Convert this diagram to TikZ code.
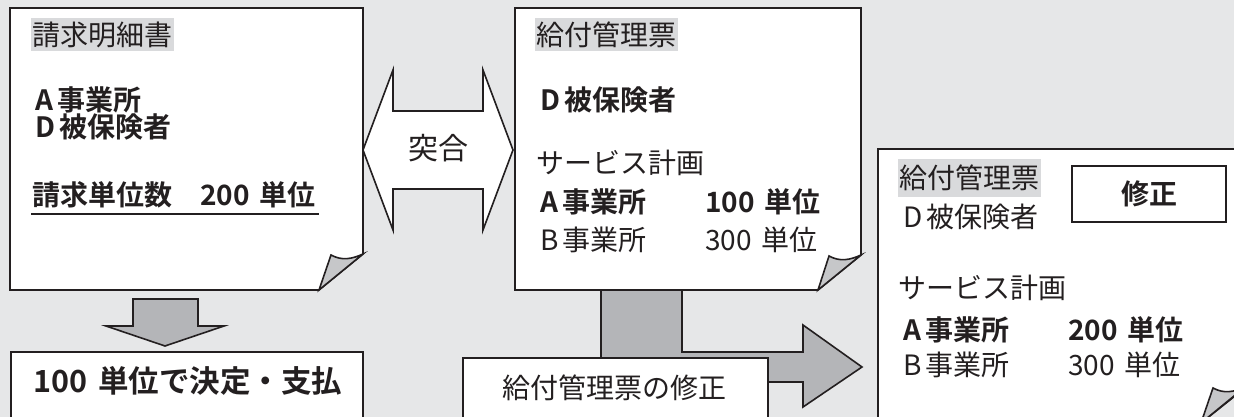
\documentclass[tikz,border=0pt]{standalone}
\usepackage{fontspec}
\setmainfont{Noto Sans CJK JP}[BoldFont={Noto Sans CJK JP Bold}]
\definecolor{bg}{HTML}{E6E7E8}
\definecolor{ink}{HTML}{231F20}
\definecolor{arrowgray}{HTML}{B4B5B8}
\definecolor{flapgray}{HTML}{C6C7C9}
\definecolor{hl}{HTML}{D9DADC}
\newcommand{\lt}[1]{#1\hspace{4pt}}
\newcommand{\nsp}{\hspace{0.36em}}
\tikzset{
 outline/.style={draw=ink, line width=1.6pt, line join=miter},
 page/.style={outline, fill=white},
 flap/.style={outline, fill=flapgray},
 blockarrow/.style={outline, fill=arrowgray},
 txt/.style={anchor=west, inner sep=0pt, text=ink, font=\fontsize{28}{31}\selectfont},
 btxt/.style={txt, font=\fontsize{28}{31}\selectfont\bfseries},
 doctitle/.style={txt, fill=hl, inner xsep=1.5pt, minimum height=33pt},
}
\begin{document}
\begin{tikzpicture}[x=1pt,y=-1pt]
\useasboundingbox (0,0) rectangle (1234,417);
\fill[bg] (0,0) rectangle (1234,417);
\clip (0,0) rectangle (1234,417);

% arrows behind pages
\draw[blockarrow] (601,286) -- (682,286) -- (682,352) -- (803,352) -- (803,325) -- (862,367) -- (803,407) -- (803,382) -- (601,382) -- cycle;

% doc 1
\draw[page] (10,8) -- (363,8) -- (363,254) -- (319,290) -- (10,290) -- cycle;
\draw[flap] (319,290) -- (331,255) .. controls (342,261) and (352,259) .. (363,254) -- cycle;
\node[doctitle] (t1) at (31,35) {請求明細書};
\node[btxt] (a1) at (35,100) {\lt{A}事業所};
\node[btxt] (d1) at (35,127) {\lt{D}被保険者};
\node[btxt] (s1) at (32,195) {請求単位数};
\node[btxt] (u1) at (200,195) {200\nsp 単位};
\draw[ink, line width=2pt] (31,214) -- (319,214);

% doc 2
\draw[page] (515,8) -- (861,8) -- (861,255) -- (818,290) -- (515,290) -- cycle;
\draw[flap] (818,290) -- (829,256) .. controls (840,262) and (850,260) .. (861,255) -- cycle;
\node[doctitle] (t2) at (535,35) {給付管理票};
\node[btxt] (d2) at (540,100) {\lt{D}被保険者};
\node[txt] (p2) at (536,163) {サービス計画};
\node[btxt] (a2) at (540,202) {\lt{A}事業所};
\node[btxt] (ua2) at (705,202) {100\nsp 単位};
\node[txt] (b2) at (540,240) {\lt{B}事業所};
\node[txt] (ub2) at (705,240) {300\nsp 単位};

% double arrow
\draw[outline, fill=white] (363,150) -- (393,70) -- (393,111) -- (483,111) -- (483,70) -- (513,150) -- (483,230) -- (483,189) -- (393,189) -- (393,230) -- cycle;
\node[txt, anchor=center, font=\fontsize{30}{33}\selectfont] (chk) at (438,148) {突合};

% down arrow
\draw[blockarrow] (133,299) -- (198,299) -- (198,326) -- (224,326) -- (165,346) -- (106,326) -- (133,326) -- cycle;

% result box
\draw[page] (11,352) rectangle (363,430);
\node[btxt, anchor=center, font=\fontsize{30.5}{33}\selectfont\bfseries] (res) at (188,381) {100\nsp 単位で決定・支払};

% correction box
\draw[page] (463,358) rectangle (768,430);
\node[txt, anchor=center, font=\fontsize{28}{31}\selectfont] (corr) at (614,388) {給付管理票の修正};

% doc 3
\draw[page] (878,149) -- (1245,149) -- (1245,388) -- (1201,423) -- (878,423) -- cycle;
\draw[flap] (1201,423) -- (1213,388) .. controls (1224,394) and (1234,392) .. (1245,387) -- cycle;
\node[doctitle, minimum height=38pt] (t3) at (898,178) {給付管理票};
\node[draw=ink, line width=1.6pt, fill=white, minimum width=154pt, minimum height=56pt, inner sep=0pt, text=ink, font=\fontsize{28}{31}\selectfont\bfseries] (fix) at (1149,194) {修正};
\node[txt] (d3) at (903,217) {\lt{D}被保険者};
\node[txt] (p3) at (898,288) {サービス計画};
\node[btxt] (a3) at (903,330) {\lt{A}事業所};
\node[btxt] (ua3) at (1068,330) {200\nsp 単位};
\node[txt] (b3) at (903,365) {\lt{B}事業所};
\node[txt] (ub3) at (1068,365) {300\nsp 単位};
\end{tikzpicture}
\end{document}
